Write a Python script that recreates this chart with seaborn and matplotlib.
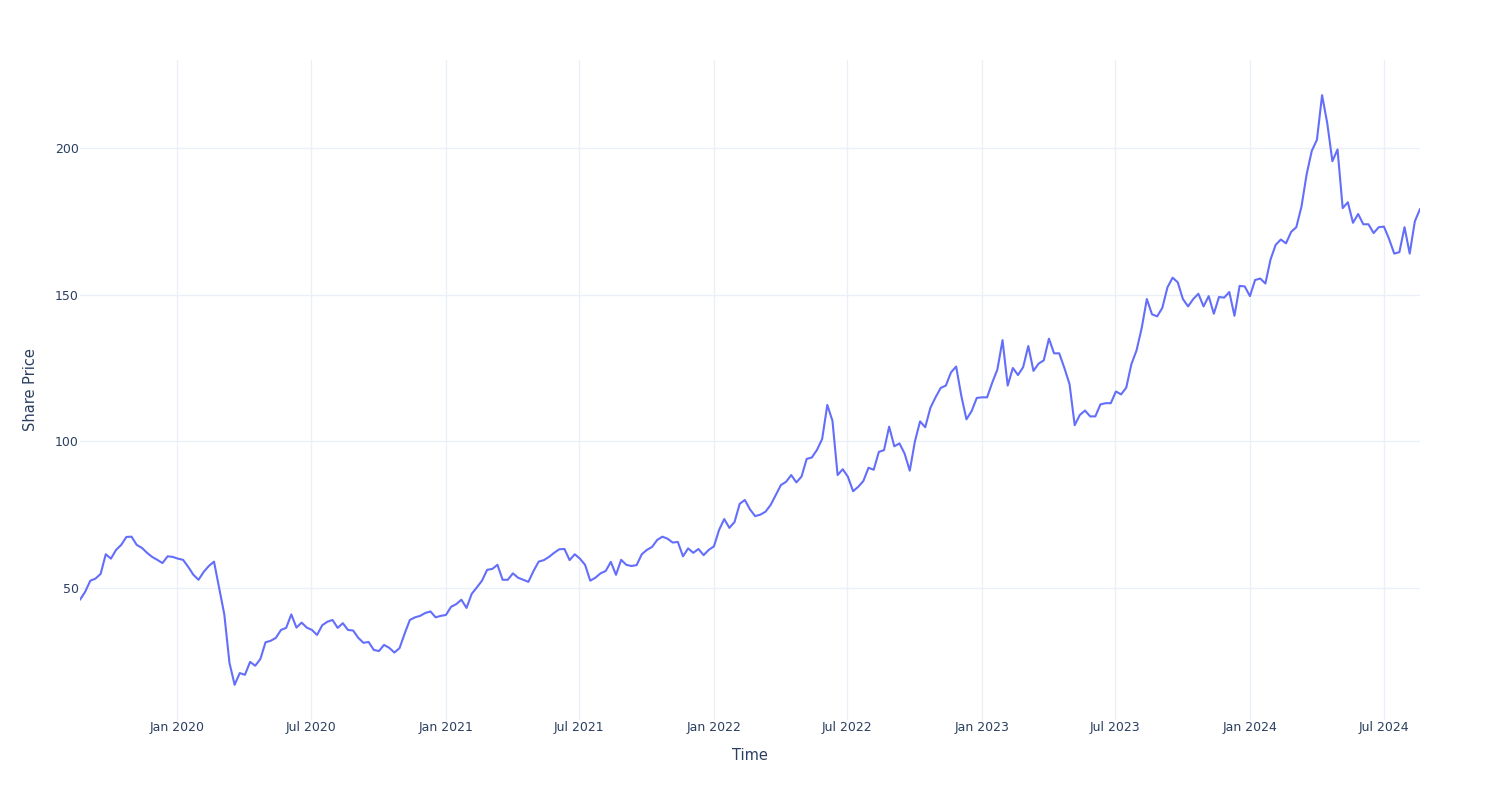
import matplotlib
matplotlib.use("Agg")
import matplotlib.pyplot as plt
import seaborn as sns
import pandas as pd

# ---- data (weekly readings from the reference chart) ----
first_date = "2019-08-22"
last_date = "2024-08-19"
price = [
    46.0, 48.7, 52.5, 53.2, 54.8, 61.5, 60.0, 63.0, 64.7, 67.4,
    67.5, 64.7, 63.7, 62.0, 60.6, 59.6, 58.5, 60.8, 60.6, 60.0,
    59.6, 57.2, 54.5, 52.8, 55.5, 57.5, 59.0, 50.0, 41.0, 24.5,
    17.0, 21.0, 20.4, 24.8, 23.5, 25.8, 31.5, 32.0, 33.0, 35.7,
    36.4, 41.0, 36.5, 38.2, 36.5, 35.7, 34.0, 37.3, 38.5, 39.1,
    36.4, 38.0, 35.7, 35.5, 33.0, 31.3, 31.6, 28.9, 28.5, 30.6,
    29.6, 28.0, 29.5, 34.5, 39.1, 40.0, 40.5, 41.5, 42.0, 40.0,
    40.5, 40.8, 43.6, 44.5, 46.0, 43.2, 48.0, 50.2, 52.5, 56.2,
    56.5, 57.9, 52.8, 52.8, 55.0, 53.5, 52.8, 52.1, 55.8, 59.0,
    59.5, 60.6, 62.0, 63.2, 63.3, 59.5, 61.5, 60.0, 57.9, 52.5,
    53.5, 55.0, 55.8, 58.9, 54.5, 59.6, 57.9, 57.5, 57.8, 61.5,
    63.0, 64.0, 66.4, 67.5, 66.8, 65.5, 65.7, 60.8, 63.5, 62.0,
    63.3, 61.2, 63.0, 64.2, 69.8, 73.5, 70.5, 72.5, 78.7, 80.0,
    76.8, 74.5, 75.0, 76.0, 78.3, 81.7, 85.1, 86.2, 88.5, 86.0,
    88.0, 94.0, 94.5, 97.1, 100.8, 112.4, 107.0, 88.5, 90.5, 87.9,
    83.0, 84.5, 86.5, 91.0, 90.3, 96.4, 97.0, 105.0, 98.3, 99.3,
    95.8, 90.0, 100.0, 106.8, 104.8, 111.4, 115.0, 118.2, 119.0, 123.5,
    125.5, 115.5, 107.5, 110.3, 114.8, 115.0, 115.0, 120.0, 124.5, 134.5,
    119.0, 125.0, 122.6, 125.3, 132.5, 124.0, 126.5, 127.6, 135.0, 130.0,
    130.0, 125.0, 119.5, 105.5, 109.0, 110.5, 108.5, 108.5, 112.6, 113.0,
    113.0, 117.0, 116.0, 118.3, 126.3, 131.0, 138.6, 148.5, 143.3, 142.6,
    145.5, 152.5, 155.8, 154.2, 148.5, 146.0, 148.5, 150.3, 146.0, 149.5,
    143.5, 149.2, 149.0, 150.9, 142.8, 153.0, 152.8, 149.5, 155.0, 155.5,
    153.8, 162.0, 167.0, 168.8, 167.5, 171.4, 173.0, 180.0, 191.0, 199.0,
    202.8, 218.0, 208.5, 195.5, 199.5, 179.5, 181.5, 174.5, 177.5, 174.0,
    174.0, 171.0, 173.0, 173.2, 169.0, 164.0, 164.5, 173.0, 164.0, 175.0, 179.2,
]
tick_dates = ["2020-01-01", "2020-07-01", "2021-01-01", "2021-07-01", "2022-01-01",
              "2022-07-01", "2023-01-01", "2023-07-01", "2024-01-01", "2024-07-01"]
tick_labels = ["Jan 2020", "Jul 2020", "Jan 2021", "Jul 2021", "Jan 2022",
               "Jul 2022", "Jan 2023", "Jul 2023", "Jan 2024", "Jul 2024"]
y_ticks = [50, 100, 150, 200]

df = pd.DataFrame({
    "Time": pd.date_range(first_date, last_date, periods=len(price)),
    "Share Price": price,
})

# ---- style ----
sns.set_theme(style="white")
plt.rcParams["font.family"] = ["DejaVu Sans"]
text_color = "#2a3f5f"
grid_color = "#EBF0F8"

fig = plt.figure(figsize=(15, 8), dpi=100)
ax = fig.add_axes([80 / 1500, 80 / 800, 1340 / 1500, 660 / 800])

sns.lineplot(data=df, x="Time", y="Share Price", ax=ax,
             color="#636EFA", linewidth=1.5)

ax.set_xlim(df["Time"].min(), df["Time"].max())
ax.set_ylim(5, 230)
ax.set_xticks(pd.to_datetime(tick_dates))
ax.set_xticklabels(tick_labels)
ax.set_yticks(y_ticks)
ax.set_yticklabels([str(v) for v in y_ticks])

ax.grid(True, color=grid_color, linewidth=1)
ax.set_axisbelow(True)
for s in ax.spines.values():
    s.set_visible(False)
ax.tick_params(axis="both", length=0, labelsize=9, labelcolor=text_color)
ax.tick_params(axis="x", pad=1)
ax.tick_params(axis="y", pad=1)

ax.set_xlabel("Time", fontsize=10.5, color=text_color, labelpad=10)
ax.set_ylabel("Share Price", fontsize=10.5, color=text_color, labelpad=12)

fig.savefig("out.png", dpi=100)
